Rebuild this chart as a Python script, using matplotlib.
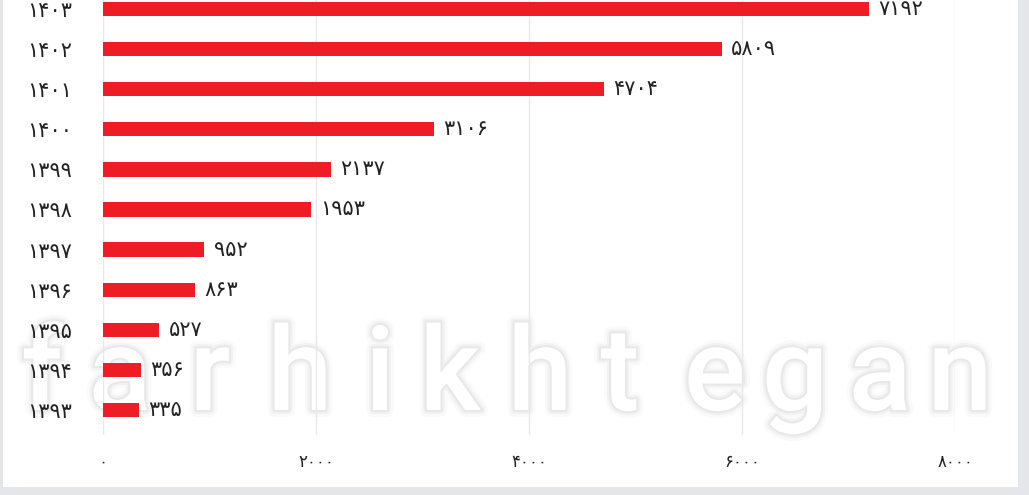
import matplotlib
matplotlib.use("Agg")
import matplotlib.pyplot as plt
import matplotlib.patheffects as pe
from matplotlib.patches import Rectangle

years = ["۱۳۹۳", "۱۳۹۴", "۱۳۹۵", "۱۳۹۶", "۱۳۹۷", "۱۳۹۸", "۱۳۹۹", "۱۴۰۰", "۱۴۰۱", "۱۴۰۲", "۱۴۰۳"]
values = [335, 356, 527, 863, 952, 1953, 2137, 3106, 4704, 5809, 7192]
x_ticks = [0, 2000, 4000, 6000, 8000]
x_tick_labels = ["۰", "۲۰۰۰", "۴۰۰۰", "۶۰۰۰", "۸۰۰۰"]

def fa(n):
    return str(n).translate(str.maketrans("0123456789", "۰۱۲۳۴۵۶۷۸۹"))

plt.rcParams['font.family'] = ['DejaVu Sans']

fig = plt.figure(figsize=(10.29, 4.95), dpi=100)
fig.patch.set_facecolor("#e4e6e9")
fig.add_artist(Rectangle((3/1029, 8/495), (1018-3)/1029, 1 - 8/495,
                         transform=fig.transFigure, facecolor="white",
                         edgecolor="none", zorder=0))

ax = fig.add_axes([103/1029, 60/495, (955-103)/1029, 435/495])
ax.set_facecolor("none")
ax.set_zorder(2)

# watermark (decorative)
wm_letters = list("farhikhtegan")
wm_x = [42, 120, 210, 300, 380, 450, 540, 620, 715, 795, 880, 960]
shadow = [pe.Stroke(linewidth=10, foreground="#000000", alpha=0.02),
          pe.Stroke(linewidth=6, foreground="#000000", alpha=0.03),
          pe.Stroke(linewidth=3, foreground="#000000", alpha=0.04),
          pe.Normal()]
for ch, xp in zip(wm_letters, wm_x):
    fig.text(xp / 1029, 85 / 495, ch, ha="center", va="baseline",
             fontsize=84, color="white", family="Roboto", fontweight="medium",
             zorder=1, path_effects=shadow)

pos = list(range(len(years)))
ax.barh(pos, values, height=0.36, color="#ee1c25", zorder=3)
for p, v in zip(pos, values):
    ax.text(v + 90, p, fa(v), va="center", ha="left", fontsize=15, color="#222222", zorder=4)

ax.set_xlim(0, 8000)
ax.set_ylim(-0.62, 10.22)
ax.set_xticks(x_ticks)
ax.set_xticklabels(x_tick_labels, fontsize=12, color="#222222")
ax.set_yticks(pos)
ax.set_yticklabels(years, fontsize=15, color="#222222")
ax.tick_params(axis="x", length=0, pad=13)
ax.tick_params(axis="y", length=0, pad=22)
ax.grid(axis="x", color="#e8e8e8", linewidth=1)
ax.set_axisbelow(True)
for s in ax.spines.values():
    s.set_visible(False)

fig.savefig("out.png", dpi=100)
